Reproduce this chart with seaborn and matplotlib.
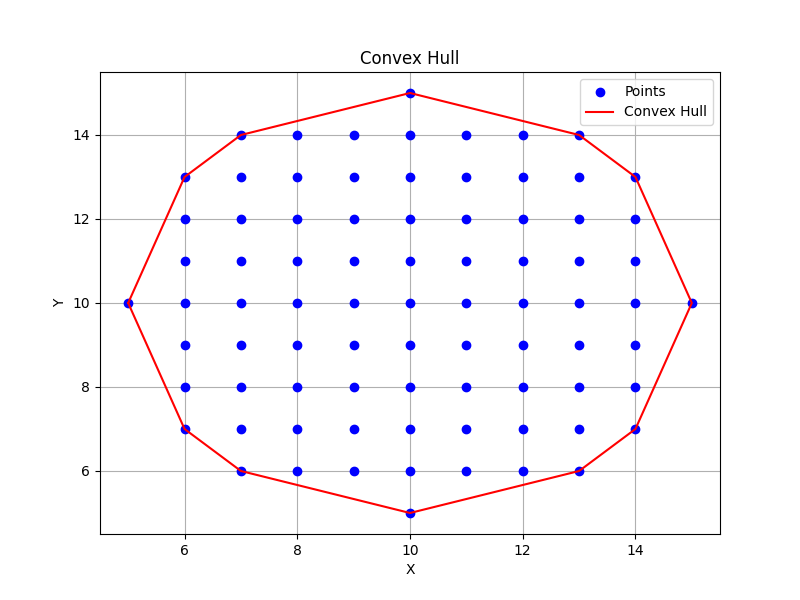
import matplotlib
matplotlib.use('Agg')
import matplotlib.pyplot as plt
import seaborn as sns
import pandas as pd

# Pontos por linha (y -> lista de x)
linha_y = [15, 14, 13, 12, 11, 10, 9, 8, 7, 6, 5]
linha_x = [
    [10],
    [7, 8, 9, 10, 11, 12, 13],
    [6, 7, 8, 9, 10, 11, 12, 13, 14],
    [6, 7, 8, 9, 10, 11, 12, 13, 14],
    [6, 7, 8, 9, 10, 11, 12, 13, 14],
    [5, 6, 7, 8, 9, 10, 11, 12, 13, 14, 15],
    [6, 7, 8, 9, 10, 11, 12, 13, 14],
    [6, 7, 8, 9, 10, 11, 12, 13, 14],
    [6, 7, 8, 9, 10, 11, 12, 13, 14],
    [7, 8, 9, 10, 11, 12, 13],
    [10],
]

# Vertices do fecho convexo (fechado)
hull_x = [5, 6, 7, 10, 13, 14, 15, 14, 13, 10, 7, 6, 5]
hull_y = [10, 7, 6, 5, 6, 7, 10, 13, 14, 15, 14, 13, 10]

pontos = pd.DataFrame(
    [(x, y) for y, xs in zip(linha_y, linha_x) for x in xs],
    columns=['x', 'y'],
)
fecho = pd.DataFrame({'x': hull_x, 'y': hull_y})

fig, ax = plt.subplots(figsize=(8, 6), dpi=100)
sns.scatterplot(data=pontos, x='x', y='y', color='blue', s=36, linewidth=1,
                edgecolor='blue', label='Points', ax=ax, zorder=2)
sns.lineplot(data=fecho, x='x', y='y', sort=False, estimator=None, color='red',
             linewidth=1.5, label='Convex Hull', ax=ax, zorder=3)

ax.set_title('Convex Hull')
ax.set_xlabel('X')
ax.set_ylabel('Y')
ax.grid(True)
ax.legend(loc='upper right')

plt.savefig('out.png')
